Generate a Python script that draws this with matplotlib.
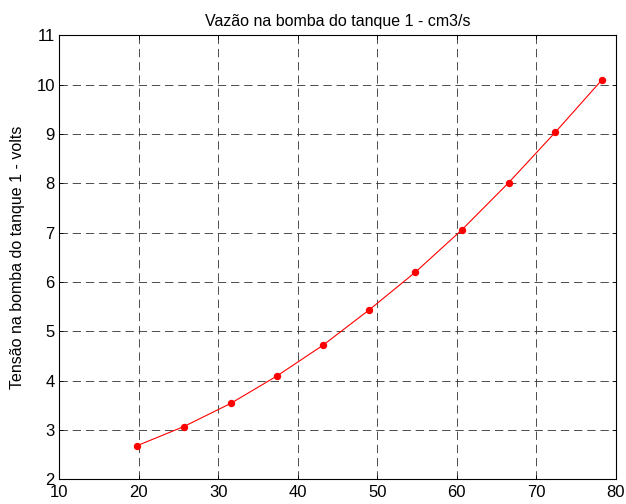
import matplotlib
matplotlib.use("Agg")
import matplotlib.pyplot as plt

# vazão (cm3/s) x tensão (V) na bomba do tanque 1
vazao = [19.8, 25.7, 31.6, 37.35, 43.2, 48.95, 54.8, 60.65, 66.5, 72.35, 78.2]
tensao = [2.68, 3.07, 3.54, 4.09, 4.72, 5.43, 6.2, 7.06, 8.01, 9.03, 10.09]

xticks = [10, 20, 30, 40, 50, 60, 70, 80]
yticks = [2, 3, 4, 5, 6, 7, 8, 9, 10, 11]

plt.rcParams['font.family'] = ['Liberation Sans', 'DejaVu Sans']
plt.rcParams['lines.scale_dashes'] = False

fig = plt.figure(figsize=(6.26, 5.04), dpi=100)
ax = fig.add_axes([0.0942, 0.049, 0.8898, 0.881])

ax.plot(vazao, tensao, '-', color='red', lw=0.8)
ax.plot(vazao, tensao, 'o', color='red', ms=4.3, mec='red')

ax.set_xlim(10, 80)
ax.set_ylim(2, 11)
ax.set_xticks(xticks)
ax.set_yticks(yticks)
ax.grid(True, color='#303030', linestyle=(0, (6, 3.5)), lw=0.6)
ax.tick_params(direction='in', top=True, right=True, length=3, width=0.6,
               labelsize=12, pad=3)
ax.tick_params(axis='x', pad=4)
for s in ax.spines.values():
    s.set_linewidth(0.8)

ax.set_title('Vazão na bomba do tanque 1 - cm3/s', fontsize=11.5, pad=7)
ax.set_ylabel('Tensão na bomba do tanque 1 - volts', fontsize=11.5, labelpad=8)

fig.savefig('out.png', dpi=100)
